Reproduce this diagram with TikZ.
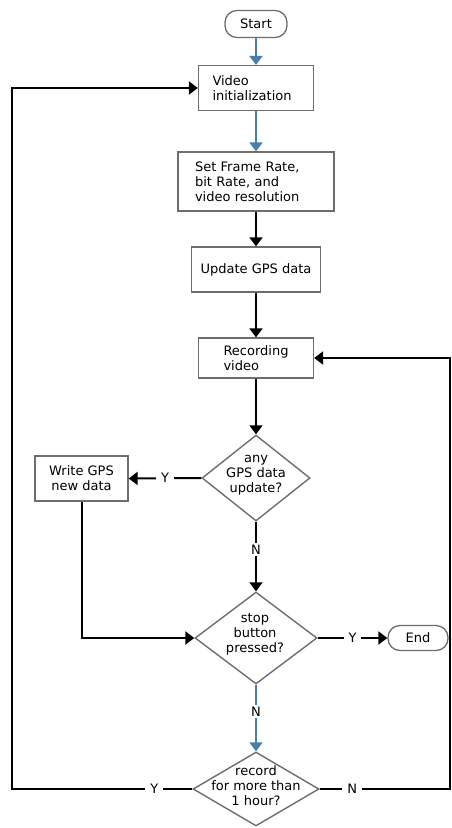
\documentclass[tikz,border=0pt]{standalone}
\usepackage{fontspec}
\setmainfont{DejaVu Sans}
\usetikzlibrary{shapes.geometric,arrows.meta}
\definecolor{flowblue}{HTML}{4A7FAB}
\definecolor{boxgrey}{HTML}{6E6E6E}
\begin{document}
\begin{tikzpicture}[x=1pt,y=-1pt,
  every node/.style={font=\fontsize{13}{15}\selectfont},
  box/.style={draw=boxgrey, line width=1.3pt, rectangle, inner sep=0pt},
  term/.style={draw=boxgrey, line width=1.3pt, rectangle, rounded corners=12pt, inner sep=0pt},
  dia/.style={draw=boxgrey, line width=1.4pt, diamond, inner sep=0pt},
  conn/.style={line width=2pt, draw=black, -{Triangle[width=13pt,length=9pt]}},
  bconn/.style={line width=2pt, draw=flowblue, fill=flowblue, -{Triangle[width=13pt,length=9pt]}},
  lbl/.style={fill=white, text=black, inner xsep=5pt, inner ysep=2pt}
]
\useasboundingbox (0,0) rectangle (452,828);
\path[fill=white] (0,0) rectangle (452,828);

\node[term, minimum width=62pt, minimum height=27pt] (start) at (256,24) {Start};
\node[box, minimum height=45pt, text width=87pt, inner xsep=14pt, align=left] (init) at (256,88) {Video\\initialization};
\node[box, minimum height=59pt, text width=122pt, inner xsep=17pt, align=left] (set) at (256,181.5) {Set Frame Rate,\\bit Rate, and\\video resolution};
\node[box, minimum width=129pt, minimum height=45pt, align=center] (upd) at (256,269.5) {Update GPS data};
\node[box, minimum height=40pt, text width=65pt, inner xsep=25pt, align=left] (rec) at (256,358) {Recording\\video};

\node[dia, minimum width=108pt, minimum height=86pt] (d1) at (256,478) {};
\node[align=center] (d1t) at (256,475) {any\\GPS data\\update?};
\node[box, minimum width=93pt, minimum height=45pt, align=center] (write) at (81.5,478.5) {Write GPS\\new data};

\node[dia, minimum width=122pt, minimum height=92pt] (d2) at (256,638) {};
\node[align=center] (d2t) at (255,634) {stop\\button\\pressed?};
\node[term, minimum width=60pt, minimum height=25pt] (end) at (418,638) {End};

\node[dia, minimum width=126pt, minimum height=74pt] (d3) at (256,789) {};
\node[align=center] (d3t) at (256,786) {record\\for more than\\1 hour?};

\coordinate (lc) at (12,789);
\coordinate (rc) at (450,789);

\draw[bconn] (start) -- (init);
\draw[bconn] (init) -- (set);
\draw[conn] (set) -- (upd);
\draw[conn] (upd) -- (rec);
\draw[conn] (rec) -- (d1);
\draw[conn] (d1.west) -- node[lbl] {Y} (write.east);
\draw[conn] (d1.south) -- node[lbl, pos=0.4] {N} (d2.north);
\draw[conn] (write.south) |- (d2.west);
\draw[conn] (d2.east) -- node[lbl] {Y} (end.west);
\draw[bconn] (d2.south) -- node[lbl, pos=0.4] {N} (d3.north);
\draw[conn] (d3.west) -- node[lbl, pos=0.21] {Y} (lc) |- (init.west);
\draw[conn] (d3.east) -- node[lbl, pos=0.25] {N} (rc) |- (rec.east);
\end{tikzpicture}
\end{document}
